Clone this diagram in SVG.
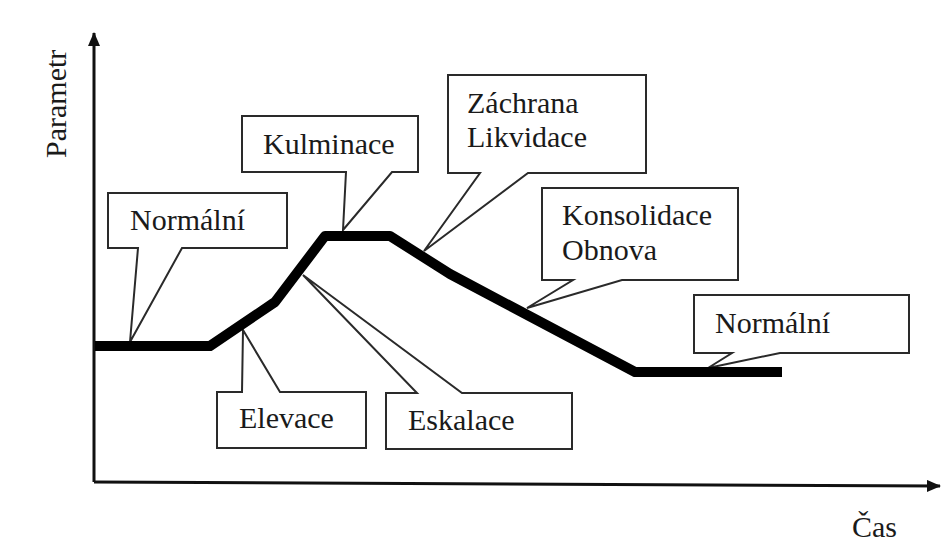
<svg xmlns="http://www.w3.org/2000/svg" width="941" height="545" viewBox="0 0 941 545">
<style>
.box{fill:#fff;stroke:#2a2a2a;stroke-width:2;stroke-linejoin:miter}
.t{font-family:"Liberation Serif","Times New Roman",serif;font-size:30px;fill:#1a1a1a}
.ax{stroke:#111;stroke-width:3;fill:none}
.curve{stroke:#000;stroke-width:10;fill:none;stroke-linejoin:round}
</style>
<defs>
<marker id="arr" viewBox="0 0 14 12" refX="13" refY="6" markerWidth="14" markerHeight="12" markerUnits="userSpaceOnUse" orient="auto">
<path d="M0,0 L14,6 L0,12 Z" fill="#111"/>
</marker>
</defs>
<rect width="941" height="545" fill="#fff"/>
<g id="axes">
<line class="ax" x1="94" y1="482" x2="94" y2="33" marker-end="url(#arr)"/>
<line class="ax" x1="94" y1="482" x2="940" y2="486" marker-end="url(#arr)"/>
<text class="t" font-size="29" transform="translate(66,158) rotate(-90)">Parametr</text>
<text class="t" font-size="24" x="852" y="537">Čas</text>
</g>
<g id="normalni1">
<path class="box" d="M108,193 H287 V248 H182 L130,342 L138,248 H108 Z"/>
<text class="t" x="130" y="230">Normální</text>
</g>
<g id="kulminace">
<path class="box" d="M242,116 H418 V172 H392 L343,230 L346,172 H242 Z"/>
<text class="t" x="263" y="154">Kulminace</text>
</g>
<g id="zachrana">
<path class="box" d="M448,75 H646 V173 H528 L424,251 L480,173 H448 Z"/>
<text class="t" x="467" y="113">Záchrana</text>
<text class="t" x="467" y="147">Likvidace</text>
</g>
<g id="konsolidace">
<path class="box" d="M542,188 H738 V280 H622 L527,308 L573,280 H542 Z"/>
<text class="t" x="562" y="225">Konsolidace</text>
<text class="t" x="562" y="260">Obnova</text>
</g>
<g id="normalni2">
<path class="box" d="M694,295 H909 V353 H780 L708,368 L732,353 H694 Z"/>
<text class="t" x="715" y="333">Normální</text>
</g>
<g id="elevace">
<path class="box" d="M217,392 H242 L243,330 L280,392 H366 V448 H217 Z"/>
<text class="t" x="239" y="428">Elevace</text>
</g>
<g id="eskalace">
<path class="box" d="M386,393 H417 L303,275 L462,393 H572 V449 H386 Z"/>
<text class="t" x="408" y="430">Eskalace</text>
</g>
<g id="connectors">
<polyline class="curve" points="95,346 210,346 275,302 325,236 390,236 450,274 635,372 782,372"/>
</g>
</svg>
